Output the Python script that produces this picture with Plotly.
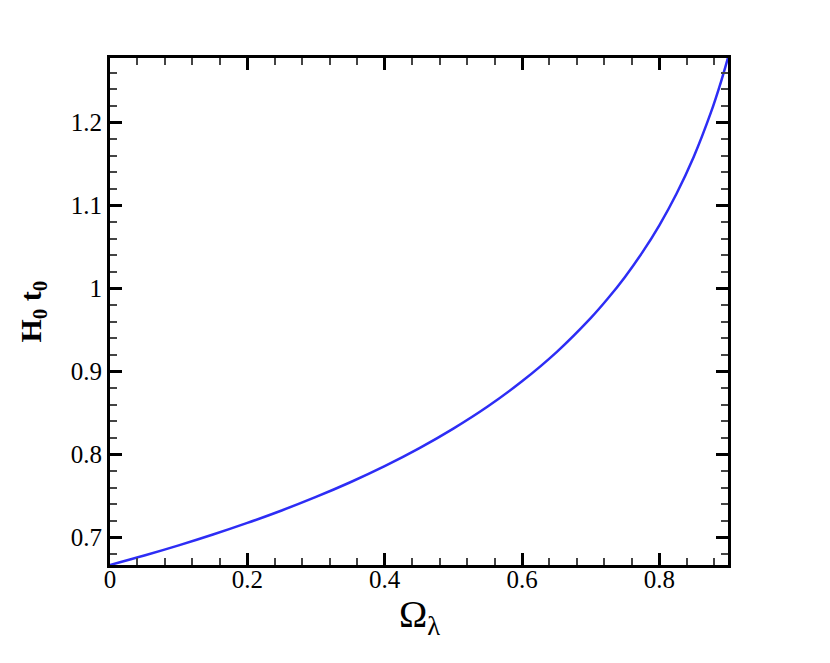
import plotly.graph_objects as go

# values
omega_lambda = [0.0, 0.05, 0.10, 0.15, 0.20, 0.25, 0.30, 0.35, 0.40, 0.45, 0.50,
                0.55, 0.60, 0.65, 0.70, 0.725, 0.75, 0.775, 0.80, 0.825, 0.85,
                0.875, 0.89, 0.90]
h0_t0 = [0.6667, 0.6781, 0.6903, 0.7034, 0.7174, 0.7324, 0.7487, 0.7664, 0.7858,
         0.8072, 0.8310, 0.8576, 0.8880, 0.9229, 0.9641, 0.9877, 1.0138, 1.0430,
         1.0760, 1.1140, 1.1583, 1.2116, 1.2494, 1.2779]

x_ticks = [0, 0.2, 0.4, 0.6, 0.8]
x_labels = ["0", "0.2", "0.4", "0.6", "0.8"]
y_ticks = [0.7, 0.8, 0.9, 1.0, 1.1, 1.2]
y_labels = ["0.7", "0.8", "0.9", "1", "1.1", "1.2"]

fig = go.Figure()
fig.add_trace(go.Scatter(x=omega_lambda, y=h0_t0, mode="lines",
                         line=dict(color="#2d2df5", width=2.5, shape="spline"),
                         showlegend=False))

font = "Liberation Serif"
axis_common = dict(
    showgrid=False, zeroline=False, showline=True, linecolor="black", linewidth=3,
    mirror="allticks", ticks="inside", ticklen=12, tickwidth=2.5, tickcolor="black",
    tickfont=dict(family=font, size=25, color="black"), automargin=False,
    minor=dict(ticks="inside", ticklen=7, tickwidth=1.5, tickcolor="#444"),
)

fig.update_xaxes(range=[0, 0.9], tickvals=x_ticks, ticktext=x_labels,
                 minor_dtick=0.04, minor_tick0=0, ticklabelstandoff=-10,
                 **axis_common)
fig.update_yaxes(range=[0.6667, 1.2775], tickvals=y_ticks, ticktext=y_labels,
                 minor_dtick=0.02, minor_tick0=0.7, ticklabelstandoff=0,
                 **axis_common)

# axis titles
fig.add_annotation(text="Ω<sub>λ</sub>", xref="paper", yref="paper", x=0.5, y=0,
                   xanchor="center", yanchor="middle", yshift=-52, showarrow=False,
                   font=dict(family=font, size=38, color="black"))
fig.add_annotation(text="<b>H<sub>0</sub> t<sub>0</sub></b>", xref="paper", yref="paper",
                   x=0, y=0.5, xanchor="center", yanchor="middle", xshift=-78,
                   textangle=-90, showarrow=False,
                   font=dict(family=font, size=30, color="black"))

# page body adds an 8px offset, so margins are shifted to compensate
fig.update_layout(width=830, height=663, plot_bgcolor="white", paper_bgcolor="white",
                  font=dict(family=font, color="black"),
                  margin=dict(l=102, r=110, t=50, b=106))

fig.write_html("out.html")
